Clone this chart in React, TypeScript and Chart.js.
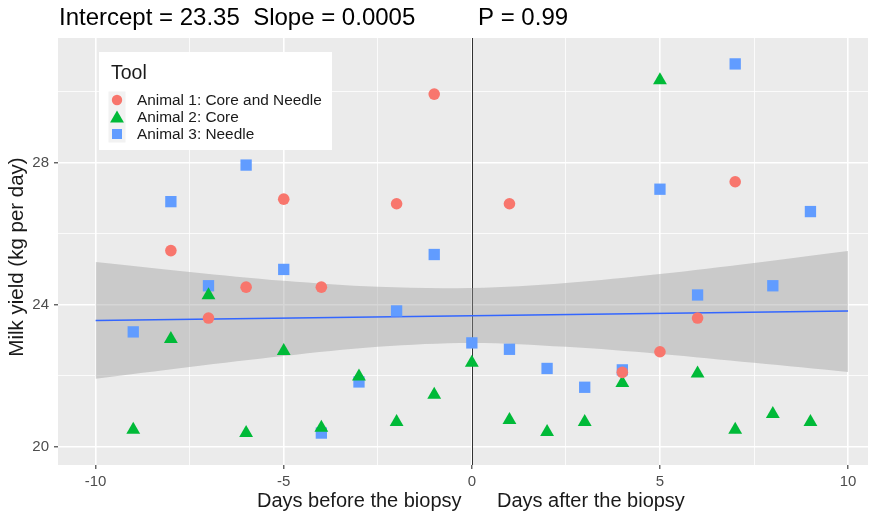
import React, { useEffect, useRef } from 'react';
import { Chart, registerables } from 'chart.js';

Chart.register(...registerables);

// ---- data ----
const ANIMAL1_X = [-8, -7, -6, -5, -4, -2, -1, 1, 4, 5, 6, 7];
const ANIMAL1_Y = [25.53, 23.63, 24.5, 26.98, 24.5, 26.85, 29.94, 26.85, 22.1, 22.68, 23.63, 27.47];

const ANIMAL2_X = [-9, -8, -7, -6, -5, -4, -3, -2, -1, 0, 1, 2, 3, 4, 5, 6, 7, 8, 9];
const ANIMAL2_Y = [20.48, 23.04, 24.27, 20.39, 22.7, 20.54, 21.98, 20.7, 21.47, 22.37, 20.76, 20.42, 20.7, 21.8, 30.33, 22.07, 20.48, 20.93, 20.7];

const ANIMAL3_X = [-9, -8, -7, -6, -5, -4, -3, -2, -1, 0, 1, 2, 3, 4, 5, 6, 7, 8, 9];
const ANIMAL3_Y = [23.24, 26.91, 24.54, 27.94, 25.0, 20.39, 21.83, 23.83, 25.42, 22.93, 22.75, 22.21, 21.68, 22.17, 27.26, 24.28, 30.79, 24.54, 26.63];

const REG_X = [-10, 10];
const REG_Y = [23.56, 23.83];

const BAND_X = [-10, -7.5, -5, -2.5, 0, 2.5, 5, 7.5, 10];
const BAND_UPPER = [25.21, 24.93, 24.68, 24.51, 24.48, 24.62, 24.87, 25.18, 25.52];
const BAND_LOWER = [21.92, 22.25, 22.56, 22.82, 22.93, 22.82, 22.62, 22.37, 22.11];

const X_TICKS = [-10, -7.5, -5, -2.5, 0, 2.5, 5, 7.5, 10];
const X_MAJOR = [-10, -5, 0, 5, 10];
const Y_TICKS = [20, 22, 24, 26, 28, 30];
const Y_MAJOR = [20, 24, 28];

const VLINE_X = 0;

const TITLE_LEFT = 'Intercept = 23.35  Slope = 0.0005';
const TITLE_RIGHT = 'P = 0.99';
const X_TITLE_LEFT = 'Days before the biopsy';
const X_TITLE_RIGHT = 'Days after the biopsy';
const Y_TITLE = 'Milk yield (kg per day)';
const LEGEND_TITLE = 'Tool';
const SERIES_NAMES = ['Animal 1: Core and Needle', 'Animal 2: Core', 'Animal 3: Needle'];
const SERIES_COLORS = ['#F8766D', '#00BA38', '#619CFF'];

const FONT = '"Liberation Sans", Arial, sans-serif';

const zip = (xs: number[], ys: number[]) => xs.map((x, i) => ({ x, y: ys[i] }));

const decorPlugin = {
  id: 'decor',
  beforeDraw(chart: any) {
    const { ctx, chartArea: a } = chart;
    ctx.save();
    ctx.fillStyle = '#FFFFFF';
    ctx.fillRect(0, 0, chart.width, chart.height);
    ctx.fillStyle = '#EBEBEB';
    ctx.fillRect(a.left, a.top, a.right - a.left, a.bottom - a.top);
    ctx.restore();
  },
  beforeDatasetsDraw(chart: any) {
    const { ctx, chartArea: a, scales } = chart;
    const px = scales.x.getPixelForValue(VLINE_X);
    ctx.save();
    ctx.strokeStyle = '#333333';
    ctx.lineWidth = 1;
    ctx.beginPath();
    ctx.moveTo(Math.round(px) + 0.5, a.top);
    ctx.lineTo(Math.round(px) + 0.5, a.bottom);
    ctx.stroke();
    ctx.restore();
  },
  afterDraw(chart: any) {
    const { ctx } = chart;
    ctx.save();
    // title
    ctx.fillStyle = '#000000';
    ctx.font = `24px ${FONT}`;
    ctx.textBaseline = 'alphabetic';
    ctx.textAlign = 'left';
    ctx.fillText(TITLE_LEFT, 59, 25);
    ctx.fillText(TITLE_RIGHT, 478, 25);

    // x axis title
    ctx.font = `20px ${FONT}`;
    ctx.fillStyle = '#1A1A1A';
    ctx.fillText(X_TITLE_LEFT, 257, 507);
    ctx.fillText(X_TITLE_RIGHT, 497, 507);

    // y axis title
    ctx.save();
    ctx.translate(23, 257);
    ctx.rotate(-Math.PI / 2);
    ctx.textAlign = 'center';
    ctx.font = `20.5px ${FONT}`;
    ctx.fillText(Y_TITLE, 0, 0);
    ctx.restore();

    // legend
    ctx.fillStyle = '#FFFFFF';
    ctx.fillRect(99, 52, 233, 98);
    ctx.fillStyle = '#1A1A1A';
    ctx.font = `19.5px ${FONT}`;
    ctx.textAlign = 'left';
    ctx.fillText(LEGEND_TITLE, 111, 79);
    const rows = [100, 117, 134];
    ctx.fillStyle = '#F2F2F2';
    ctx.fillRect(108.5, rows[0] - 8.5, 17, 51);
    ctx.font = `15.4px ${FONT}`;
    ctx.textBaseline = 'middle';
    rows.forEach((ry, i) => {
      const cx = 117;
      ctx.fillStyle = SERIES_COLORS[i];
      ctx.beginPath();
      if (i === 0) {
        ctx.arc(cx, ry, 5.2, 0, Math.PI * 2);
      } else if (i === 1) {
        const r = 8;
        ctx.moveTo(cx, ry - r + 1.5);
        ctx.lineTo(cx + r * 0.866, ry + r / 2 + 1.5);
        ctx.lineTo(cx - r * 0.866, ry + r / 2 + 1.5);
        ctx.closePath();
      } else {
        ctx.rect(cx - 5, ry - 5, 10, 10);
      }
      ctx.fill();
      ctx.fillStyle = '#1A1A1A';
      ctx.fillText(SERIES_NAMES[i], 137, ry + 1);
    });
    ctx.restore();
  },
};

export default function App() {
  const ref = useRef<HTMLCanvasElement | null>(null);

  useEffect(() => {
    document.body.style.margin = '0';
    const canvas = ref.current;
    if (!canvas) return;

    const pointDs = (i: number, xs: number[], ys: number[], style: string, radius: number) => ({
      type: 'line' as const,
      label: SERIES_NAMES[i],
      data: zip(xs, ys),
      showLine: false,
      pointStyle: style,
      pointRadius: radius,
      pointHoverRadius: radius,
      pointBackgroundColor: SERIES_COLORS[i],
      pointBorderColor: SERIES_COLORS[i],
      pointBorderWidth: 0,
      backgroundColor: SERIES_COLORS[i],
      borderColor: SERIES_COLORS[i],
    });

    const isMajorX = (v: number) => X_MAJOR.includes(v);
    const isMajorY = (v: number) => Y_MAJOR.includes(v);

    const chart = new Chart(canvas, {
      type: 'line',
      data: {
        datasets: [
          pointDs(0, ANIMAL1_X, ANIMAL1_Y, 'circle', 5.8),
          pointDs(1, ANIMAL2_X, ANIMAL2_Y, 'triangle', 8),
          pointDs(2, ANIMAL3_X, ANIMAL3_Y, 'rect', 8),
          {
            label: 'fit',
            data: zip(REG_X, REG_Y),
            borderColor: '#3366FF',
            borderWidth: 1.6,
            pointRadius: 0,
            fill: false,
          },
          {
            label: 'upper',
            data: zip(BAND_X, BAND_UPPER),
            borderWidth: 0,
            borderColor: 'rgba(0,0,0,0)',
            pointRadius: 0,
            tension: 0.35,
            fill: '+1',
            backgroundColor: 'rgba(153,153,153,0.4)',
          },
          {
            label: 'lower',
            data: zip(BAND_X, BAND_LOWER),
            borderWidth: 0,
            borderColor: 'rgba(0,0,0,0)',
            pointRadius: 0,
            tension: 0.35,
            fill: false,
          },
        ] as any,
      },
      options: {
        animation: false,
        responsive: false,
        events: [],
        layout: { padding: { top: 38, right: 8, left: 0, bottom: 0 } },
        plugins: {
          legend: { display: false },
          title: { display: false },
          tooltip: { enabled: false },
        },
        scales: {
          x: {
            type: 'linear',
            min: -11,
            max: 10.53,
            afterBuildTicks: (scale: any) => {
              scale.ticks = X_TICKS.map((v) => ({ value: v }));
            },
            afterFit: (scale: any) => {
              scale.height = 51;
            },
            border: { display: false },
            grid: {
              color: '#FFFFFF',
              lineWidth: (c: any) => (c.tick && isMajorX(c.tick.value) ? 1.6 : 0.8),
              tickColor: (c: any) => (c.tick && isMajorX(c.tick.value) ? '#333333' : 'rgba(0,0,0,0)'),
              tickLength: 4,
              tickWidth: 1.1,
              drawTicks: true,
            },
            ticks: {
              autoSkip: false,
              maxRotation: 0,
              padding: 4,
              color: '#4D4D4D',
              font: { family: FONT, size: 15 },
              callback: (v: any) => (isMajorX(Number(v)) ? String(v) : ''),
            },
          },
          y: {
            type: 'linear',
            min: 19.49,
            max: 31.52,
            afterBuildTicks: (scale: any) => {
              scale.ticks = Y_TICKS.map((v) => ({ value: v }));
            },
            afterFit: (scale: any) => {
              scale.width = 58;
            },
            border: { display: false },
            grid: {
              color: '#FFFFFF',
              lineWidth: (c: any) => (c.tick && isMajorY(c.tick.value) ? 1.6 : 0.8),
              tickColor: (c: any) => (c.tick && isMajorY(c.tick.value) ? '#333333' : 'rgba(0,0,0,0)'),
              tickLength: 4,
              tickWidth: 1.1,
              drawTicks: true,
            },
            ticks: {
              autoSkip: false,
              padding: 5,
              color: '#4D4D4D',
              font: { family: FONT, size: 15 },
              callback: (v: any) => (isMajorY(Number(v)) ? String(v) : ''),
            },
          },
        },
      } as any,
      plugins: [decorPlugin],
    });

    return () => chart.destroy();
  }, []);

  return (
    <div style={{ position: 'absolute', left: 0, top: 0, width: 876, height: 516 }}>
      <canvas ref={ref} width={876} height={516} style={{ width: 876, height: 516, display: 'block' }} />
    </div>
  );
}
